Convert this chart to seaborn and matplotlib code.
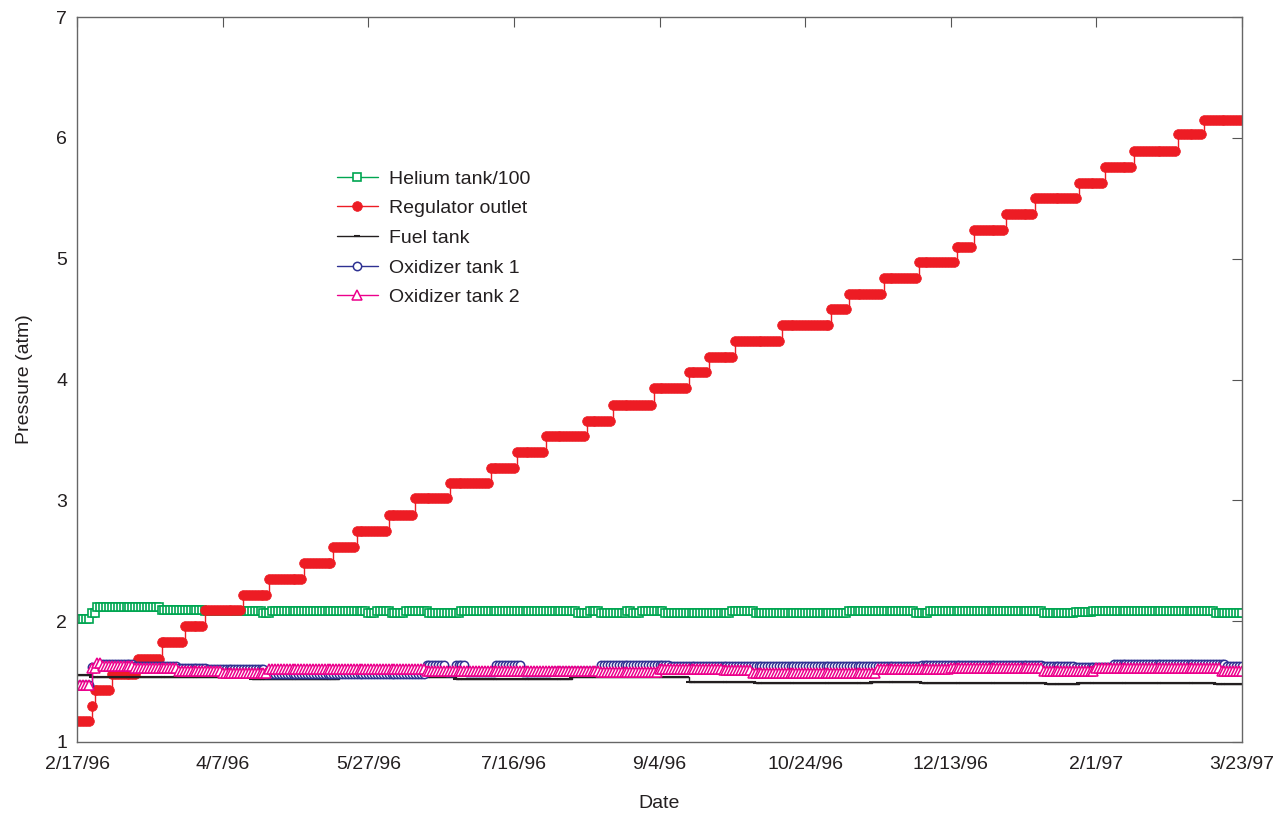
import numpy as np
import pandas as pd
import matplotlib
matplotlib.use("Agg")
import matplotlib.pyplot as plt
import seaborn as sns

# ---- data (step breakpoints: start day, value) ----
start_date = "1996-02-17"
n_days = 401

helium_days = [0, 5, 7, 29, 44, 64, 67, 100, 103, 108, 113, 121, 132, 172, 176, 180, 189, 191, 194,
               202, 225, 233, 265, 288, 293, 332, 343, 349, 391]
helium_vals = [2.02, 2.07, 2.12, 2.09, 2.08, 2.065, 2.08, 2.065, 2.08, 2.065, 2.08, 2.065, 2.08, 2.065,
               2.08, 2.065, 2.08, 2.065, 2.08, 2.065, 2.08, 2.065, 2.08, 2.065, 2.08, 2.065, 2.075, 2.08, 2.065]

reg_days = [0, 5, 6, 12, 21, 29, 37, 44, 57, 66, 78, 88, 96, 107, 116, 128, 142, 151, 161, 175, 184,
            198, 210, 217, 226, 242, 259, 265, 277, 289, 302, 308, 319, 329, 344, 353, 363, 378, 387]
reg_vals = [1.17, 1.30, 1.43, 1.56, 1.69, 1.83, 1.96, 2.09, 2.22, 2.35, 2.48, 2.61, 2.75, 2.88, 3.02,
            3.14, 3.27, 3.40, 3.53, 3.66, 3.79, 3.93, 4.06, 4.19, 4.32, 4.45, 4.58, 4.71, 4.84, 4.97,
            5.10, 5.24, 5.37, 5.50, 5.63, 5.76, 5.89, 6.03, 6.15]

fuel_days = [0, 5, 60, 90, 130, 170, 210, 233, 273, 290, 333, 344, 391]
fuel_vals = [1.555, 1.535, 1.525, 1.535, 1.525, 1.535, 1.495, 1.485, 1.495, 1.49, 1.48, 1.49, 1.48]

ox1_days = [0, 5, 8, 20, 35, 45, 65, 120, 127, 130, 134, 144, 153, 163, 180, 195, 204, 230, 260,
            290, 332, 343, 356, 395]
ox1_vals = [1.47, 1.62, 1.645, 1.63, 1.615, 1.60, 1.565, 1.64, 1.58, 1.635, 1.58, 1.64, 1.58, 1.59,
            1.64, 1.635, 1.625, 1.63, 1.625, 1.64, 1.63, 1.62, 1.645, 1.63]

ox2_days = [0, 5, 7, 9, 20, 35, 50, 66, 120, 180, 200, 222, 232, 275, 300, 332, 350, 393]
ox2_vals = [1.47, 1.61, 1.65, 1.63, 1.61, 1.59, 1.57, 1.60, 1.59, 1.58, 1.60, 1.595, 1.57, 1.60,
            1.61, 1.585, 1.61, 1.585]

tick_labels = ["2/17/96", "4/7/96", "5/27/96", "7/16/96", "9/4/96",
               "10/24/96", "12/13/96", "2/1/97", "3/23/97"]

series_names = ["Helium tank/100", "Regulator outlet", "Fuel tank",
                "Oxidizer tank 1", "Oxidizer tank 2"]


def expand(days, vals):
    days = list(days) + [n_days]
    reps = np.diff(days)
    return np.repeat(vals, reps)


dates = pd.date_range(start_date, periods=n_days, freq="D")
frames = {
    series_names[0]: expand(helium_days, helium_vals),
    series_names[1]: expand(reg_days, reg_vals),
    series_names[2]: expand(fuel_days, fuel_vals),
    series_names[3]: expand(ox1_days, ox1_vals),
    series_names[4]: expand(ox2_days, ox2_vals),
}
df = pd.DataFrame({"Date": dates, **frames})

sns.set_style("white")
plt.rcParams["font.family"] = ["Liberation Sans", "DejaVu Sans"]

fig = plt.figure(figsize=(12.78, 8.15), dpi=100)
ax = fig.add_axes([0.0603, 0.0896, 0.9115, 0.8895])

styles = {
    "Helium tank/100": dict(color="#00A651", marker="s", markersize=5.8, mfc="white", mec="#00A651", mew=1.2),
    "Regulator outlet": dict(color="#ED1C24", marker="o", markersize=7, mfc="#ED1C24", mec="#ED1C24", mew=0.5),
    "Fuel tank": dict(color="#231F20", marker="_", markersize=4, mfc="#231F20", mec="#231F20", mew=1.5),
    "Oxidizer tank 1": dict(color="#2E3192", marker="o", markersize=6, mfc="white", mec="#2E3192", mew=1.1),
    "Oxidizer tank 2": dict(color="#EC008C", marker="^", markersize=6.5, mfc="white", mec="#EC008C", mew=1.1),
}

for name in series_names:
    st = styles[name]
    sns.lineplot(x="Date", y=name, data=df, ax=ax, label=name, color=st["color"],
                 marker=st["marker"], markersize=st["markersize"], markerfacecolor=st["mfc"],
                 markeredgecolor=st["mec"], markeredgewidth=st["mew"], linewidth=1.0,
                 drawstyle="steps-post")

ticks = pd.date_range(start_date, periods=len(tick_labels), freq="50D")
ax.set_xticks(ticks)
ax.set_xticklabels(tick_labels)
ax.set_xlim(dates[0], dates[-1])
ax.set_ylim(1, 7)
ax.set_yticks([1, 2, 3, 4, 5, 6, 7])

ax.tick_params(direction="in", length=7, width=0.8, colors="#555555", labelcolor="#231F20",
               labelsize=14, top=True, right=True, pad=7)
ax.tick_params(axis="x", pad=10)
for sp in ax.spines.values():
    sp.set_visible(True)
    sp.set_color("#666666")
    sp.set_linewidth(1.0)

ax.set_xlabel("Date", fontsize=14, color="#231F20", labelpad=16)
ax.set_ylabel("Pressure (atm)", fontsize=14, color="#231F20", labelpad=17)

leg = ax.legend(loc="upper left", bbox_to_anchor=(0.223, 0.789), frameon=False, fontsize=14,
                handlelength=2.1, labelspacing=0.62, handletextpad=0.6, markerscale=1.0,
                borderaxespad=0.0, borderpad=0.0)
for t in leg.get_texts():
    t.set_color("#231F20")

fig.savefig("out.png", dpi=100, facecolor="white")
